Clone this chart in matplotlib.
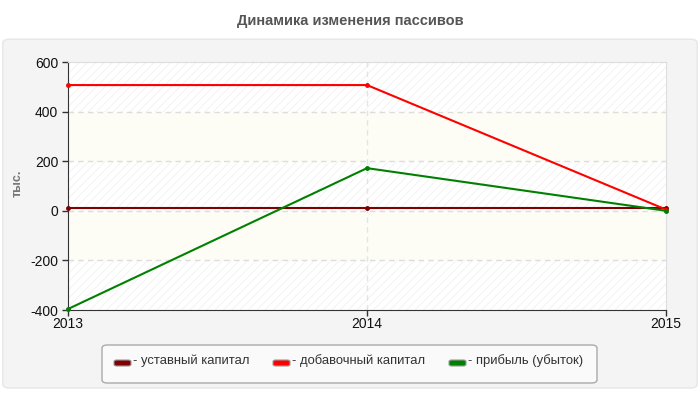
import matplotlib
matplotlib.use("Agg")
import matplotlib.pyplot as plt
from matplotlib.patches import FancyBboxPatch

plt.rcParams['font.family'] = ['Liberation Sans', 'DejaVu Sans']
plt.rcParams['hatch.linewidth'] = 0.5
plt.rcParams['axes.unicode_minus'] = False

years = [2013, 2014, 2015]
ustavny = [10, 10, 10]
dobavochny = [507, 507, 5]
pribyl = [-396, 172, 0]
series_names = ["- уставный капитал", "- добавочный капитал", "- прибыль (убыток)"]
colors = ["#800000", "#ff0000", "#008000"]
yticks = [-400, -200, 0, 200, 400, 600]

fig = plt.figure(figsize=(7, 4), dpi=100)
fig.patch.set_facecolor("white")

# outer panel
panel = FancyBboxPatch((0.004, 0.03), 0.992, 0.872, boxstyle="round,pad=0,rounding_size=0.01",
                       transform=fig.transFigure, facecolor="#f4f4f4", edgecolor="#e6e6e6",
                       linewidth=1, zorder=-5)
fig.patches.append(panel)

fig.text(0.5, 0.948, "Динамика изменения пассивов", ha="center", va="center",
         fontsize=10.5, fontweight="bold", color="#555555")

ax = fig.add_axes([68/700, 1-310/400, (666-68)/700, (310-62)/400])
ax.set_zorder(1)
ax.set_facecolor("white")
ax.set_xlim(2013, 2015)
ax.set_ylim(-400, 600)

# alternating bands
bands = [(400, 600, True), (200, 400, False), (0, 200, True), (-200, 0, False), (-400, -200, True)]
for lo, hi, hatched in bands:
    if hatched:
        ax.axhspan(lo, hi, facecolor="white", edgecolor="#efefef", hatch="////", linewidth=0, zorder=0)
    else:
        ax.axhspan(lo, hi, facecolor="#fdfdf6", edgecolor="none", linewidth=0, zorder=0)

for y in yticks[1:-1]:
    ax.axhline(y, color="#dddddd", linestyle=(0, (4, 3)), linewidth=1, zorder=1)
ax.axvline(2014, color="#e4e4e4", linestyle=(0, (4, 3)), linewidth=1, zorder=1)

for vals, c in zip([ustavny, dobavochny, pribyl], colors):
    ax.plot(years, vals, color=c, linewidth=1.5, marker="o", markersize=2.5, zorder=3, clip_on=False)

ax.set_xticks(years)
ax.set_xticklabels([str(y) for y in years])
ax.set_yticks(yticks)
ax.tick_params(axis="both", labelsize=10, colors="#333333", length=4, width=1, direction="out", pad=3)
ax.tick_params(axis="x", pad=1)
for lbl in ax.get_xticklabels() + ax.get_yticklabels():
    lbl.set_color("#111111")
ax.spines["left"].set_color("#333333")
ax.spines["bottom"].set_color("#333333")
ax.spines["top"].set_color("#dddddd")
ax.spines["right"].set_color("#dddddd")

fig.text(18/700, 1-183/400, "тыс.", rotation=90, ha="center", va="center",
         fontsize=9, fontweight="bold", color="#777777")

# legend
leg_box = FancyBboxPatch((102/700, 1-383/400), (597-102)/700, (383-345)/400,
                         boxstyle="round,pad=0,rounding_size=0.008", transform=fig.transFigure,
                         facecolor="#fafafa", edgecolor="#aaaaaa", linewidth=1, zorder=2)
fig.patches.append(leg_box)
leg_x = [114, 273, 449]
for x0, name, c in zip(leg_x, series_names, colors):
    h = FancyBboxPatch((x0/700, 1-366/400), 17/700, 6/400,
                       boxstyle="round,pad=0,rounding_size=0.004", transform=fig.transFigure,
                       facecolor=c, edgecolor="#999999", linewidth=0.8, zorder=3)
    fig.patches.append(h)
    fig.text((x0+19)/700, 1-361/400, name, ha="left", va="center", fontsize=9.4, color="#333333", zorder=4)

fig.savefig("out.png", dpi=100)
